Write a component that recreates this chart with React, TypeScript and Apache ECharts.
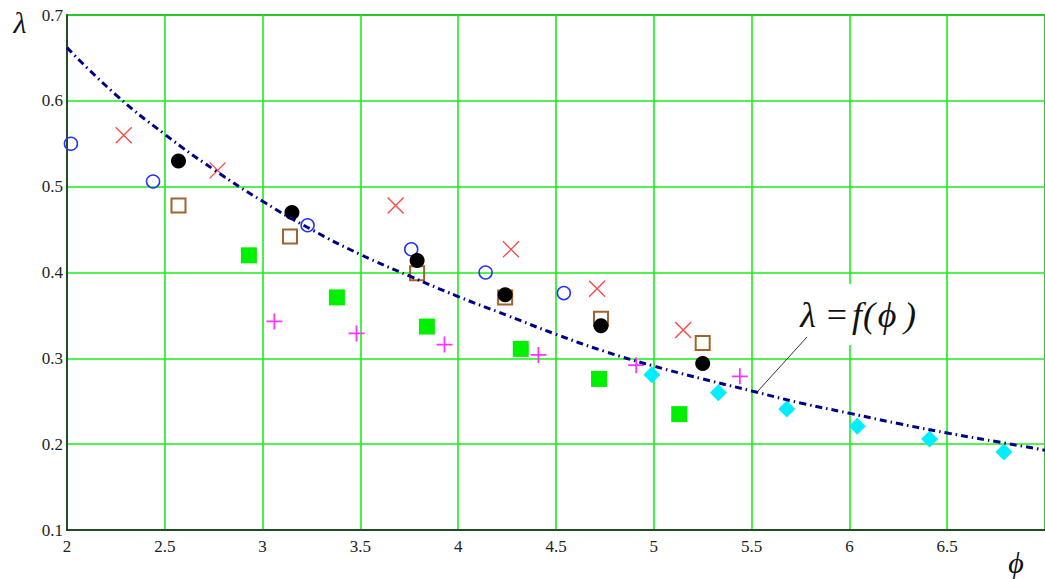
import React, { useEffect, useRef } from "react";
import * as echarts from "echarts";

// fitted curve λ = f(ϕ)
const curvePhi = [2, 2.25, 2.5, 2.75, 3, 3.25, 3.5, 3.75, 4, 4.25, 4.5, 4.75, 5, 5.25, 5.5, 5.75, 6, 6.25, 6.5, 6.75, 7];
const curveLambda = [0.662, 0.607, 0.561, 0.52, 0.483, 0.45, 0.421, 0.396, 0.372, 0.35, 0.328, 0.308, 0.291, 0.276, 0.262, 0.248, 0.236, 0.224, 0.213, 0.203, 0.193];

// measured points
const blueCirclePhi = [2.02, 2.44, 3.23, 3.76, 4.14, 4.54];
const blueCircleLambda = [0.55, 0.506, 0.455, 0.427, 0.4, 0.376];
const redCrossPhi = [2.29, 2.77, 3.68, 4.27, 4.71, 5.15];
const redCrossLambda = [0.56, 0.519, 0.478, 0.427, 0.381, 0.333];
const brownSquarePhi = [2.57, 3.14, 3.79, 4.24, 4.73, 5.25];
const brownSquareLambda = [0.478, 0.442, 0.399, 0.371, 0.346, 0.318];
const blackDotPhi = [2.57, 3.15, 3.79, 4.24, 4.73, 5.25];
const blackDotLambda = [0.53, 0.47, 0.414, 0.374, 0.338, 0.294];
const greenSquarePhi = [2.93, 3.38, 3.84, 4.32, 4.72, 5.13];
const greenSquareLambda = [0.42, 0.371, 0.337, 0.311, 0.276, 0.235];
const magentaPlusPhi = [3.06, 3.48, 3.93, 4.41, 4.91, 5.44];
const magentaPlusLambda = [0.343, 0.329, 0.316, 0.304, 0.292, 0.279];
const cyanDiamondPhi = [4.99, 5.33, 5.68, 6.04, 6.41, 6.79];
const cyanDiamondLambda = [0.281, 0.26, 0.241, 0.221, 0.206, 0.191];

const xMin = 2;
const xMax = 7;
const xStep = 0.5;
const yMin = 0.1;
const yMax = 0.7;
const yStep = 0.1;

const serif = "Times New Roman, Liberation Serif, Tinos, DejaVu Serif, serif";

const pairs = (xs: number[], ys: number[]) => xs.map((x, i) => [x, ys[i]]);

export default function App() {
  const ref = useRef<HTMLDivElement>(null);
  useEffect(() => {
    if (!ref.current) return;
    const chart = echarts.init(ref.current, undefined, { renderer: "svg" });
    const glyph = (text: string, x: number, y: number, size: number, style = "italic") => ({
      type: "text",
      x,
      y,
      z: 20,
      style: {
        text,
        fontStyle: style,
        fontSize: size,
        fontFamily: serif,
        fill: "#111",
        textAlign: "center",
        textVerticalAlign: "middle",
      },
    });
    chart.setOption({
      animation: false,
      backgroundColor: "#fff",
      grid: {
        left: 67,
        top: 15,
        width: 981,
        height: 515,
        show: true,
        borderColor: "#222",
        borderWidth: 1.5,
        backgroundColor: "transparent",
      },
      xAxis: {
        type: "value",
        min: xMin,
        max: xMax,
        interval: xStep,
        axisLine: { show: true, onZero: false, lineStyle: { color: "#222", width: 1.5 } },
        axisTick: { show: false },
        splitLine: { show: true, lineStyle: { color: "#1aee1a", width: 1.6 } },
        axisLabel: {
          margin: 8,
          fontFamily: serif,
          fontSize: 17,
          color: "#222",
          showMaxLabel: false,
          formatter: (v: number) => (v >= xMax ? "" : String(+v.toFixed(1))),
        },
      },
      yAxis: {
        type: "value",
        min: yMin,
        max: yMax,
        interval: yStep,
        axisLine: { show: true, onZero: false, lineStyle: { color: "#222", width: 1.5 } },
        axisTick: { show: false },
        splitLine: { show: true, lineStyle: { color: "#1aee1a", width: 1.6 } },
        axisLabel: {
          margin: 4,
          fontFamily: serif,
          fontSize: 17,
          color: "#222",
          formatter: (v: number) => v.toFixed(1),
        },
      },
      series: [
        {
          type: "scatter",
          data: pairs(blueCirclePhi, blueCircleLambda),
          symbol: "circle",
          symbolSize: 13,
          itemStyle: { color: "transparent", borderColor: "#2233ff", borderWidth: 1.5, opacity: 1 },
          z: 3,
        },
        {
          type: "scatter",
          data: pairs(redCrossPhi, redCrossLambda),
          symbol: "path://M0,0 L10,10 M10,0 L0,10",
          symbolSize: 16,
          itemStyle: { color: "none", borderColor: "#ff4444", borderWidth: 1.3, opacity: 1 },
          z: 3,
        },
        {
          type: "scatter",
          data: pairs(brownSquarePhi, brownSquareLambda),
          symbol: "rect",
          symbolSize: 14,
          itemStyle: { color: "transparent", borderColor: "#a0642a", borderWidth: 2, opacity: 1 },
          z: 3,
        },
        {
          type: "scatter",
          data: pairs(blackDotPhi, blackDotLambda),
          symbol: "circle",
          symbolSize: 15,
          itemStyle: { color: "#000", opacity: 1 },
          z: 4,
        },
        {
          type: "scatter",
          data: pairs(greenSquarePhi, greenSquareLambda),
          symbol: "rect",
          symbolSize: 16,
          itemStyle: { color: "#00f000", opacity: 1 },
          z: 3,
        },
        {
          type: "scatter",
          data: pairs(magentaPlusPhi, magentaPlusLambda),
          symbol: "path://M5,0 L5,10 M0,5 L10,5",
          symbolSize: 16,
          itemStyle: { color: "none", borderColor: "#ff33ff", borderWidth: 1.8, opacity: 1 },
          z: 3,
        },
        {
          type: "scatter",
          data: pairs(cyanDiamondPhi, cyanDiamondLambda),
          symbol: "diamond",
          symbolSize: 17,
          itemStyle: { color: "#00eeff", opacity: 1 },
          z: 3,
        },
        {
          type: "line",
          data: pairs(curvePhi, curveLambda),
          smooth: true,
          showSymbol: false,
          symbol: "none",
          lineStyle: { color: "#00008b", width: 3, type: [7, 4, 1.5, 4] },
          z: 5,
        },
      ],
      graphic: [
        {
          type: "rect",
          z: 15,
          shape: { x: 790, y: 284, width: 140, height: 61 },
          style: { fill: "#fff" },
        },
        {
          type: "line",
          z: 16,
          shape: { x1: 807, y1: 337, x2: 758, y2: 391 },
          style: { stroke: "#333", lineWidth: 1 },
        },
        glyph("λ", 808, 315, 36),
        glyph("=", 837, 315, 36, "normal"),
        glyph("f", 857, 315, 36),
        glyph("(", 869, 315, 36),
        glyph("ϕ", 887, 315, 36),
        glyph(")", 910, 315, 36),
        glyph("λ", 20, 22, 30),
        glyph("ϕ", 1016, 562, 30),
      ],
    });
    return () => chart.dispose();
  }, []);
  return (
    <div
      ref={ref}
      style={{ position: "fixed", left: 0, top: 0, width: 1045, height: 579, background: "#fff" }}
    />
  );
}
